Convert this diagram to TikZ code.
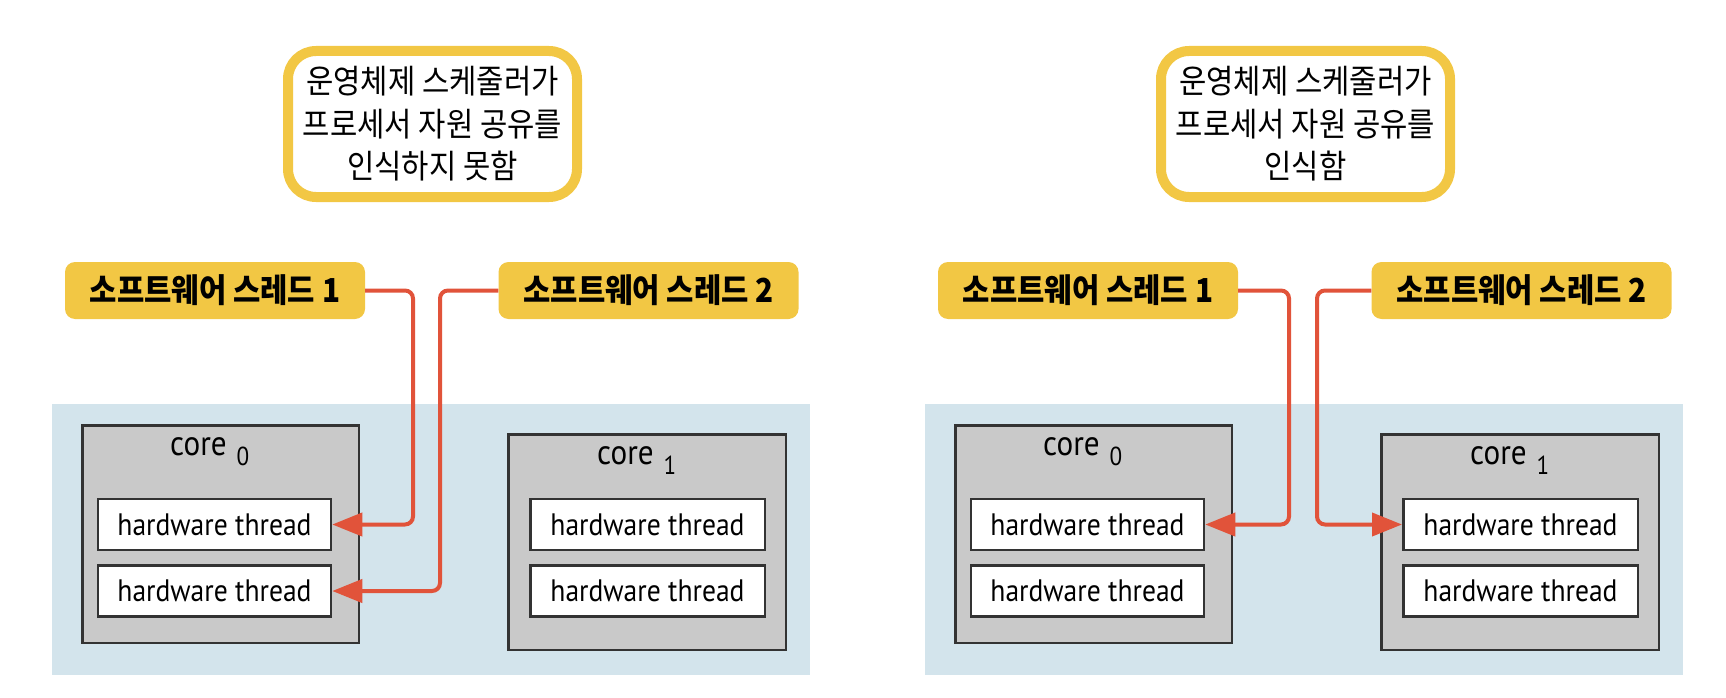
\documentclass[tikz,border=0pt]{standalone}
\usepackage{fontspec}
\usetikzlibrary{arrows.meta}
\newfontfamily\krfont{Noto Sans CJK KR}[FakeStretch=0.9]
\newfontfamily\hwfont{PT Sans}[FakeStretch=0.89]
\definecolor{callyellow}{HTML}{F2C744}
\definecolor{panelblue}{HTML}{D3E4EC}
\definecolor{coregray}{HTML}{C9C9C9}
\definecolor{linered}{HTML}{E1533A}
\definecolor{edgedark}{HTML}{333333}
\tikzset{
  callout/.style={draw=callyellow, line width=10pt, fill=white, rounded corners=28pt,
    minimum width=289pt, minimum height=146pt, inner sep=0pt, align=center,
    font=\krfont\fontsize{33}{42.5}\selectfont},
  swthread/.style={fill=callyellow, rounded corners=10pt, minimum width=300pt,
    minimum height=57pt, inner sep=0pt, font=\krfont\bfseries\fontsize{33}{38}\selectfont},
  panel/.style={fill=panelblue, minimum width=758pt, minimum height=271pt, inner sep=0pt},
  corebox/.style={draw=edgedark, line width=2.5pt, fill=coregray, inner sep=0pt},
  hwbox/.style={draw=edgedark, line width=2.5pt, fill=white, inner sep=0pt,
    minimum width=233pt, minimum height=51pt, font=\hwfont\fontsize{31}{36}\selectfont},
  corelab/.style={anchor=base west, inner sep=0pt, font=\hwfont\fontsize{35}{38}\selectfont},
  link/.style={draw=linered, line width=4pt, rounded corners=8pt,
    -{Triangle[length=30pt,width=23pt]}},
}
\newcommand\coretext[1]{core\hspace{10pt}\raisebox{-10pt}{\fontsize{26}{26}\selectfont #1}}
\begin{document}
\begin{tikzpicture}[x=1pt,y=-1pt]
\useasboundingbox (0,0) rectangle (1726,698);
% ---------- left half ----------
\node[callout] (callL) at (432.5,124) {운영체제 스케줄러가\\프로세서 자원 공유를\\인식하지 못함};
\node[swthread] (t1L) at (215,290.5) {소프트웨어 스레드 1};
\node[swthread] (t2L) at (648.5,290.5) {소프트웨어 스레드 2};
\node[panel] (panelL) at (431,539.5) {};
\node[corebox, minimum width=276.5pt, minimum height=217.5pt] (c0L) at (220.5,534) {};
\node[corebox, minimum width=277.5pt, minimum height=215.5pt] (c1L) at (647,542) {};
\node[corelab] (c0labL) at (170,455) {\coretext{0}};
\node[corelab] (c1labL) at (597,464) {\coretext{1}};
\node[hwbox] (h00L) at (214.5,524.5) {hardware thread};
\node[hwbox] (h01L) at (214.5,591) {hardware thread};
\node[hwbox, minimum width=234.5pt] (h10L) at (647.5,524.5) {hardware thread};
\node[hwbox, minimum width=234.5pt] (h11L) at (647.5,591) {hardware thread};
\draw[link] (t1L.east) -- (413,290.5) |- (h00L.east);
\draw[link] (t2L.west) -- (440,290.5) |- (h01L.east);
% ---------- right half ----------
\node[callout] (callR) at (1305.5,124) {운영체제 스케줄러가\\프로세서 자원 공유를\\인식함};
\node[swthread] (t1R) at (1088,290.5) {소프트웨어 스레드 1};
\node[swthread] (t2R) at (1521.5,290.5) {소프트웨어 스레드 2};
\node[panel] (panelR) at (1304,539.5) {};
\node[corebox, minimum width=276.5pt, minimum height=217.5pt] (c0R) at (1093.5,534) {};
\node[corebox, minimum width=277.5pt, minimum height=215.5pt] (c1R) at (1520,542) {};
\node[corelab] (c0labR) at (1043,455) {\coretext{0}};
\node[corelab] (c1labR) at (1470,464) {\coretext{1}};
\node[hwbox] (h00R) at (1087.5,524.5) {hardware thread};
\node[hwbox] (h01R) at (1087.5,591) {hardware thread};
\node[hwbox, minimum width=234.5pt] (h10R) at (1520.5,524.5) {hardware thread};
\node[hwbox, minimum width=234.5pt] (h11R) at (1520.5,591) {hardware thread};
\draw[link] (t1R.east) -- (1289,290.5) |- (h00R.east);
\draw[link] (t2R.west) -- (1317,290.5) |- (h10R.west);
\end{tikzpicture}
\end{document}
